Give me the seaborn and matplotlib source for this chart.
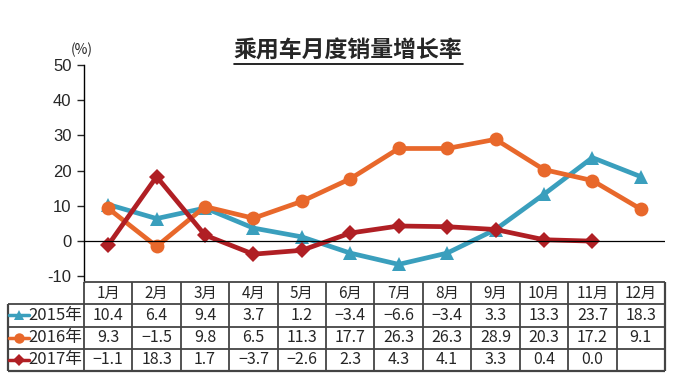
import numpy as np
import pandas as pd
import matplotlib
matplotlib.use("Agg")
import matplotlib.pyplot as plt
from matplotlib.lines import Line2D
import seaborn as sns

# data
months = ["1月", "2月", "3月", "4月", "5月", "6月", "7月", "8月", "9月", "10月", "11月", "12月"]
years = ["2015年", "2016年", "2017年"]
v2015 = [10.4, 6.4, 9.4, 3.7, 1.2, -3.4, -6.6, -3.4, 3.3, 13.3, 23.7, 18.3]
v2016 = [9.3, -1.5, 9.8, 6.5, 11.3, 17.7, 26.3, 26.3, 28.9, 20.3, 17.2, 9.1]
v2017 = [-1.1, 18.3, 1.7, -3.7, -2.6, 2.3, 4.3, 4.1, 3.3, 0.4, 0.0, np.nan]
yticks = [-10, 0, 10, 20, 30, 40, 50]

colors = ["#3a9fbd", "#e8682b", "#b01f24"]
markers = ["^", "o", "D"]
msizes = [10, 10, 8.5]
series = [v2015, v2016, v2017]

sns.set_style("white")
plt.rcParams['font.family'] = ['Liberation Sans', 'Noto Sans CJK SC', 'DejaVu Sans']
cjk = ['Noto Sans CJK SC', 'DejaVu Sans']

W, H = 680, 382
fig = plt.figure(figsize=(6.8, 3.82), dpi=100)

def box(x0, y0, x1, y1):
    return [x0 / W, 1 - y1 / H, (x1 - x0) / W, (y1 - y0) / H]

# line chart
ax = fig.add_axes(box(84, 65, 665, 282))
rows = []
for yr, vals in zip(years, series):
    for i, v in enumerate(vals):
        rows.append({"x": i, "val": v, "year": yr})
df = pd.DataFrame(rows)

for yr, c, m, ms in zip(years, colors, markers, msizes):
    sns.lineplot(data=df[df["year"] == yr].dropna(), x="x", y="val", ax=ax,
                 color=c, linewidth=3.4, marker=m, markersize=ms,
                 markeredgecolor=c, markeredgewidth=0, legend=False)

ax.set_xlim(-0.5, 11.5)
ax.set_ylim(-11.6, 50)
ax.axhline(0, color="black", linewidth=0.9)
ax.set_yticks(yticks)
ax.set_yticklabels([str(t) for t in yticks], fontsize=12)
ax.set_xticks([])
ax.set_xlabel("")
ax.set_ylabel("")
for s in ["top", "right", "bottom"]:
    ax.spines[s].set_visible(False)
ax.spines["left"].set_color("black")
ax.spines["left"].set_linewidth(1.0)
ax.tick_params(axis="y", direction="out", length=5, width=1, left=True, pad=4)

fig.text(82 / W, 1 - 50 / H, "(%)", fontsize=10, ha="center", va="center", family=cjk)
fig.text(348 / W, 1 - 51 / H, "乘用车月度销量增长率", fontsize=16.5, fontweight="bold",
         ha="center", va="center", family=cjk)
fig.add_artist(Line2D([234 / W, 463 / W], [1 - 64 / H, 1 - 64 / H], color="black", linewidth=1.2))

# data table
tx = fig.add_axes(box(8, 282, 665, 371))
cw = 48.42
left = -0.5 - 76 / cw
tx.set_xlim(left, 11.5)
tx.set_ylim(4, 0)
tx.axis("off")
lc = "#444444"
tx.hlines(0, -0.5, 11.5, color=lc, linewidth=1.3, clip_on=False)
for r in [1, 2, 3]:
    tx.hlines(r, left, 11.5, color=lc, linewidth=1.3, clip_on=False)
tx.hlines(4, left, 11.5, color=lc, linewidth=1.6, clip_on=False)
tx.vlines(left, 1, 4, color=lc, linewidth=1.6, clip_on=False)
for k in range(13):
    tx.vlines(-0.5 + k, 0, 4, color=lc, linewidth=1.3 if k < 12 else 1.6, clip_on=False)

for i, mth in enumerate(months):
    tx.text(i, 0.5, mth, ha="center", va="center", fontsize=11, family=cjk)

for r, (yr, vals, c, m, ms) in enumerate(zip(years, series, colors, markers, msizes), start=1):
    tx.plot([left + 1 / cw, left + 21 / cw], [r + 0.5, r + 0.5], color=c, linewidth=2.5, clip_on=False)
    tx.plot([left + 11 / cw], [r + 0.5], marker=m, color=c, markersize=ms * 0.75,
            markeredgewidth=0, clip_on=False)
    tx.text(-0.53, r + 0.5, yr, ha="right", va="center", fontsize=12, family=cjk)
    for i, v in enumerate(vals):
        if np.isnan(v):
            continue
        tx.text(i, r + 0.5, f"{v:.1f}".replace("-", "−"), ha="center", va="center",
                fontsize=11.5, family=cjk)

fig.savefig("out.png", dpi=100)
